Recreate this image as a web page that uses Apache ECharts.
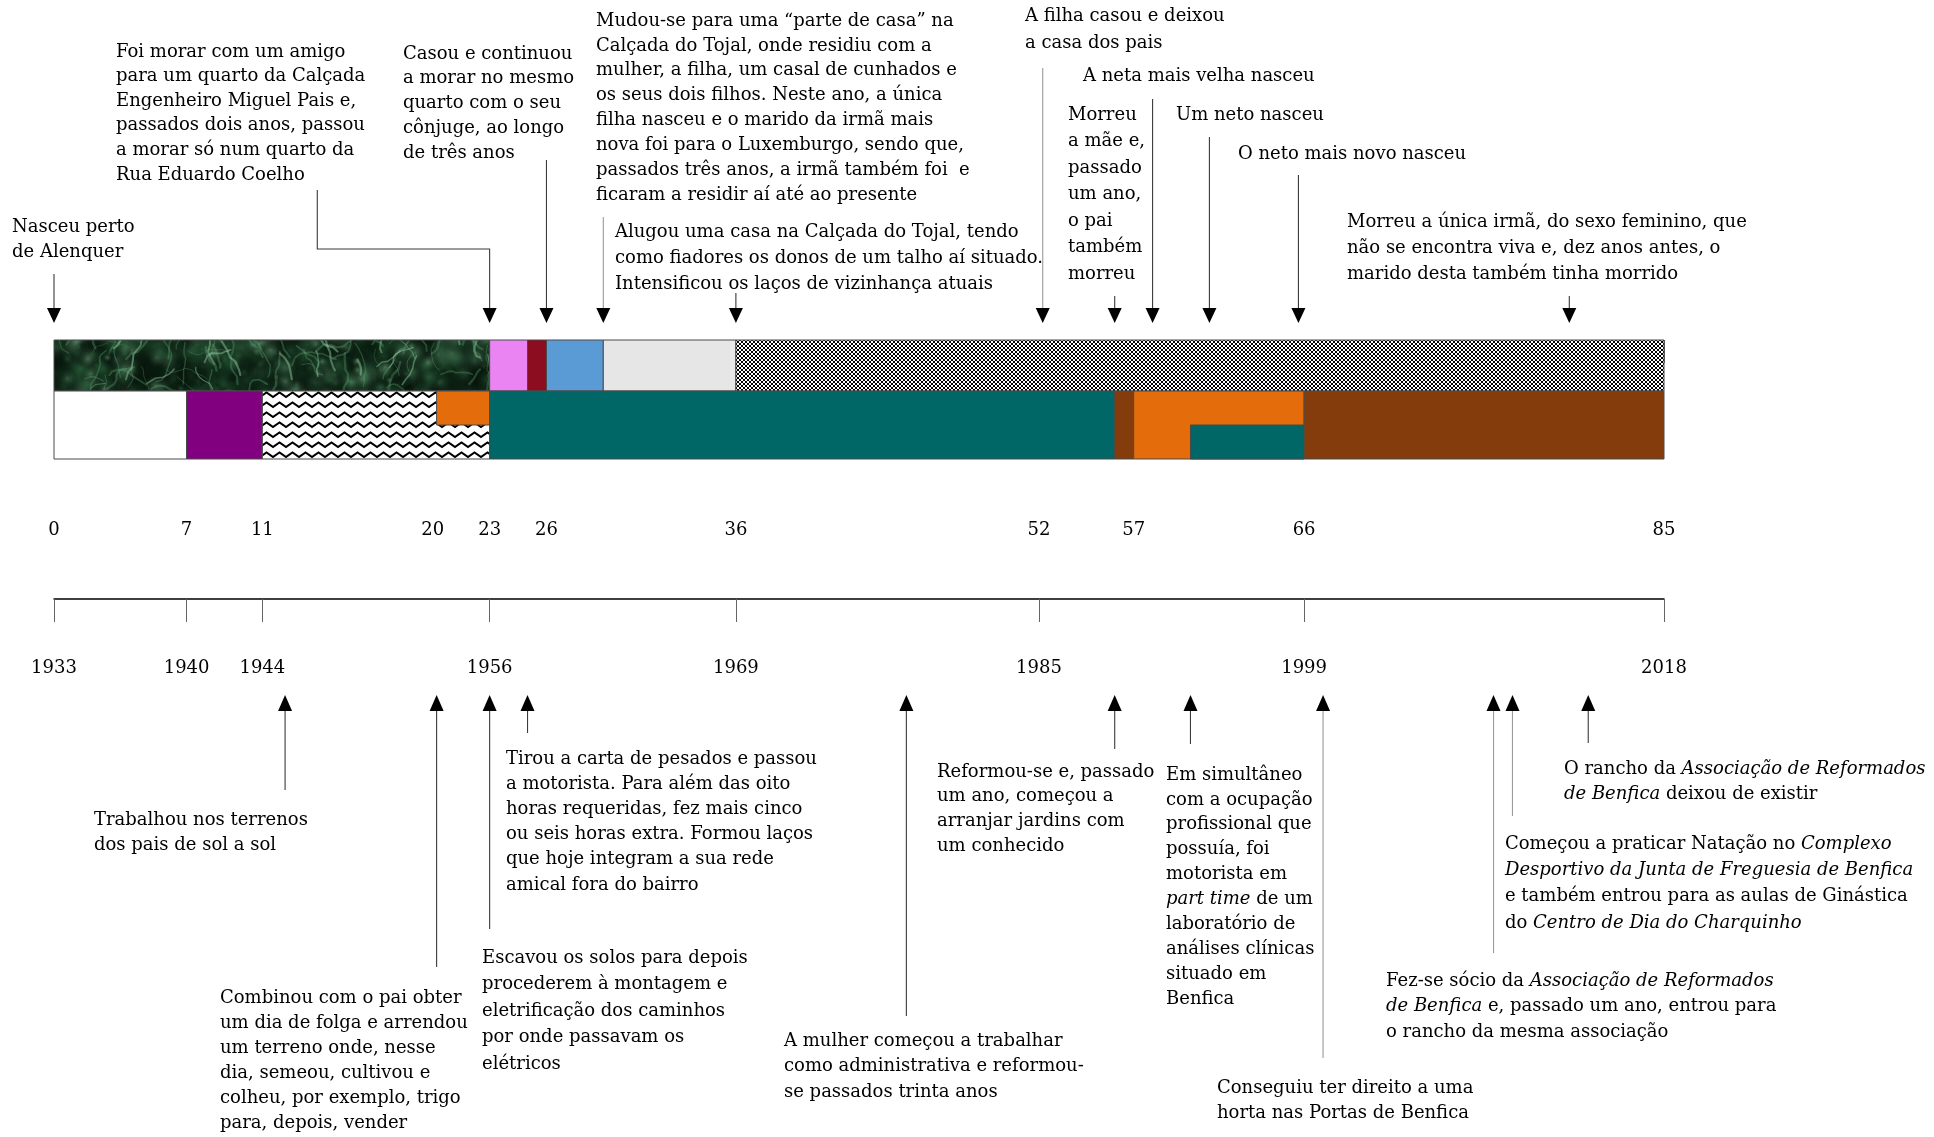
<!DOCTYPE html>
<html><head><meta charset="utf-8">
<script src="https://cdn.jsdelivr.net/npm/echarts@6/dist/echarts.min.js"></script>
<style>html,body{margin:0;padding:0;background:#fff}#c{width:1934px;height:1137px}</style>
</head><body><div id="c"></div>
<script>
// ---------------- DATA ----------------
const ageTicks = [0, 7, 11, 20, 23, 26, 36, 52, 57, 66, 85];
const yearTicks = [1933, 1940, 1944, 1956, 1969, 1985, 1999, 2018];

// residence trajectory (top bar): [startAge, endAge, fill]
const residenceSegments = [
  [0, 23, 'marble'], [23, 25, 'violet'], [25, 26, 'darkred'],
  [26, 29, 'blue'], [29, 36, 'lightgray'], [36, 85, 'hatch']
];
// occupation trajectory (bottom bar): [startAge, endAge, fill, lane]
const occupationSegments = [
  [0, 7, 'white', 'full'], [7, 11, 'purple', 'full'], [11, 23, 'zigzag', 'full'],
  [20.2, 23, 'orange', 'upper'], [23, 56, 'teal', 'full'], [56, 57, 'brown', 'full'],
  [57, 66, 'orange', 'full'], [60, 66, 'teal', 'lower'], [66, 85, 'brown', 'full']
];

// events above the bars (ages)
const aboveAges = [0, 23, 26, 29, 36, 52.2, 56, 58, 61, 65.7, 80];
const aboveTexts = [
  'Nasceu perto\nde Alenquer',
  'Foi morar com um amigo\npara um quarto da Calçada\nEngenheiro Miguel Pais e,\npassados dois anos, passou\na morar só num quarto da\nRua Eduardo Coelho',
  'Casou e continuou\na morar no mesmo\nquarto com o seu\ncônjuge, ao longo\nde três anos',
  'Mudou-se para uma “parte de casa” na\nCalçada do Tojal, onde residiu com a\nmulher, a filha, um casal de cunhados e\nos seus dois filhos. Neste ano, a única\nfilha nasceu e o marido da irmã mais\nnova foi para o Luxemburgo, sendo que,\npassados três anos, a irmã também foi  e\nficaram a residir aí até ao presente',
  'Alugou uma casa na Calçada do Tojal, tendo\ncomo fiadores os donos de um talho aí situado.\nIntensificou os laços de vizinhança atuais',
  'A filha casou e deixou\na casa dos pais',
  'Morreu\na mãe e,\npassado\num ano,\no pai\ntambém\nmorreu',
  'A neta mais velha nasceu',
  'Um neto nasceu',
  'O neto mais novo nasceu',
  'Morreu a única irmã, do sexo feminino, que\nnão se encontra viva e, dez anos antes, o\nmarido desta também tinha morrido'
];

// events below the axes (ages)
const belowAges = [12.2, 20.2, 23, 25, 45, 56, 60, 67, 76, 77, 81];
const belowTexts = [
  'Trabalhou nos terrenos\ndos pais de sol a sol',
  'Combinou com o pai obter\num dia de folga e arrendou\num terreno onde, nesse\ndia, semeou, cultivou e\ncolheu, por exemplo, trigo\npara, depois, vender',
  'Escavou os solos para depois\nprocederem à montagem e\neletrificação dos caminhos\npor onde passavam os\nelétricos',
  'Tirou a carta de pesados e passou\na motorista. Para além das oito\nhoras requeridas, fez mais cinco\nou seis horas extra. Formou laços\nque hoje integram a sua rede\namical fora do bairro',
  'A mulher começou a trabalhar\ncomo administrativa e reformou-\nse passados trinta anos',
  'Reformou-se e, passado\num ano, começou a\narranjar jardins com\num conhecido',
  'Em simultâneo\ncom a ocupação\nprofissional que\npossuía, foi\nmotorista em\n{i|part time} de um\nlaboratório de\nanálises clínicas\nsituado em\nBenfica',
  'Conseguiu ter direito a uma\nhorta nas Portas de Benfica',
  'Fez-se sócio da {i|Associação de Reformados}\n{i|de Benfica} e, passado um ano, entrou para\no rancho da mesma associação',
  'Começou a praticar Natação no {i|Complexo}\n{i|Desportivo da Junta de Freguesia de Benfica}\ne também entrou para as aulas de Ginástica\ndo {i|Centro de Dia do Charquinho}',
  'O rancho da {i|Associação de Reformados}\n{i|de Benfica} deixou de existir'
];

// ---------------- LAYOUT (pixels / styles) ----------------
const FONT = 'DejaVu Serif';
const FS = 18;
const lanes = { top: [0, 3], full: [3, 7], upper: [3, 5], lower: [5, 7] };
const fills = {
  violet: '#ea84f2', darkred: '#8b0d1f', blue: '#5b9bd5', lightgray: '#e6e6e6',
  white: '#ffffff', purple: '#800080', orange: '#e46c0a', teal: '#006666', brown: '#843c0c'
};
const TOP_TIP = 323, TOP_BASE = 308, BOT_TIP = 695, BOT_BASE = 711, HEAD_HALF = 7;
const aboveLayout = [
  { left: 12, first: 227, lh: 25, tail: 274 },
  { left: 116, first: 52, lh: 24.6, tail: 190, elbowAge: 13.9, elbowY: 249 },
  { left: 403, first: 54, lh: 24.75, tail: 160 },
  { left: 596, first: 21, lh: 24.85, tail: 217, gray: true },
  { left: 615, first: 232, lh: 26, tail: 293 },
  { left: 1025, first: 16, lh: 27, tail: 68, gray: true },
  { left: 1068, first: 115, lh: 26.5, tail: 296 },
  { left: 1083, first: 76, lh: 25, tail: 99 },
  { left: 1176, first: 115, lh: 25, tail: 137 },
  { left: 1238, first: 154, lh: 25, tail: 175 },
  { left: 1347, first: 222, lh: 26.3, tail: 296 }
];
const belowLayout = [
  { left: 94, first: 820, lh: 25, tail: 790 },
  { left: 220, first: 998, lh: 25, tail: 967 },
  { left: 482, first: 958, lh: 26.5, tail: 929 },
  { left: 506, first: 759, lh: 25.2, tail: 733 },
  { left: 784, first: 1041, lh: 25.5, tail: 1016 },
  { left: 937, first: 772, lh: 24.7, tail: 749 },
  { left: 1166, first: 775, lh: 24.9, tail: 744 },
  { left: 1217, first: 1088, lh: 25, tail: 1058, gray: true },
  { left: 1386, first: 981, lh: 25.5, tail: 953, gray: true },
  { left: 1505, first: 844, lh: 26.3, tail: 816, gray: true },
  { left: 1564, first: 769, lh: 25, tail: 743 }
];

// ---------------- textures (deterministic) ----------------
function hash(n) { const s = Math.sin(n * 12.9898 + 78.233) * 43758.5453; return s - Math.floor(s); }
function makeMarble() {
  const w = 520, h = 420, c = document.createElement('canvas');
  c.width = w; c.height = h;
  const g = c.getContext('2d');
  g.fillStyle = '#1e4f2e'; g.fillRect(0, 0, w, h);
  for (let k = 0; k < 700; k++) {
    const x = hash(k) * w, y = 330 + hash(k + 1000) * 75;
    const r = 4 + hash(k + 2000) * 16;
    const grd = g.createRadialGradient(x, y, 0, x, y, r);
    const t = hash(k + 3000);
    const col = t < 0.45 ? 'rgba(6,30,14,0.5)' : (t < 0.85 ? 'rgba(55,115,75,0.4)' : 'rgba(120,185,140,0.45)');
    grd.addColorStop(0, col);
    grd.addColorStop(1, 'rgba(0,0,0,0)');
    g.fillStyle = grd; g.fillRect(x - r, y - r, 2 * r, 2 * r);
  }
  g.lineCap = 'round'; g.lineJoin = 'round';
  for (let k = 0; k < 110; k++) {
    let x = hash(k + 5000) * w, y = 338 + hash(k + 6000) * 58;
    const bright = hash(k + 7000);
    g.strokeStyle = bright > 0.7 ? 'rgba(150,210,165,0.45)' : 'rgba(95,160,115,0.35)';
    g.lineWidth = 0.7 + hash(k + 8000) * 1.8;
    g.beginPath(); g.moveTo(x, y);
    let ang = -Math.PI / 2 + (hash(k + 9000) - 0.5) * 1.6;
    const steps = 4 + Math.floor(hash(k + 9500) * 6);
    for (let s = 0; s < steps; s++) {
      ang += (hash(k * 13 + s) - 0.5) * 1.4;
      const len = 3 + hash(k * 17 + s) * 5;
      x += Math.cos(ang) * len; y += Math.sin(ang) * len;
      g.lineTo(x, y);
    }
    g.stroke();
  }
  return c;
}
function makeHatch() {
  const c = document.createElement('canvas'); c.width = 4; c.height = 4;
  const g = c.getContext('2d');
  g.fillStyle = '#ffffff'; g.fillRect(0, 0, 4, 4);
  g.fillStyle = '#000000';
  [[0, 0], [3, 0], [1, 1], [2, 1], [1, 2], [2, 2], [0, 3], [3, 3]].forEach(p => g.fillRect(p[0], p[1], 1, 1));
  return c;
}
function makeZigzag() {
  const c = document.createElement('canvas'); c.width = 13; c.height = 10;
  const g = c.getContext('2d');
  g.fillStyle = '#ffffff'; g.fillRect(0, 0, 13, 10);
  g.strokeStyle = '#000'; g.lineWidth = 2;
  g.beginPath(); g.moveTo(-1, 7.8); g.lineTo(6.5, 2.5); g.lineTo(14, 7.8); g.stroke();
  return c;
}
fills.marble = { image: makeMarble(), repeat: 'repeat' };
fills.hatch = { image: makeHatch(), repeat: 'repeat' };
fills.zigzag = { image: makeZigzag(), repeat: 'repeat' };

// ---------------- render ----------------
const allSegments = residenceSegments.map(s => [s[0], s[1], s[2], 'top']).concat(occupationSegments);

function renderBar(params, api) {
  const s = allSegments[params.dataIndex];
  const lane = lanes[s[3]];
  const p0 = api.coord([api.value(0), lane[0]]);
  const p1 = api.coord([api.value(1), lane[1]]);
  return {
    type: 'rect',
    shape: { x: p0[0], y: p0[1], width: p1[0] - p0[0], height: p1[1] - p0[1] },
    style: { fill: fills[s[2]], stroke: '#4a4a4a', lineWidth: 1 }
  };
}
function textEl(txt, L) {
  return {
    type: 'text',
    style: {
      text: txt, x: L.left, y: L.first - L.lh / 2,
      fill: '#000', fontFamily: FONT, fontSize: FS, lineHeight: L.lh,
      align: 'left', verticalAlign: 'top',
      rich: { i: { fontStyle: 'italic', fontFamily: FONT, fontSize: FS, lineHeight: L.lh, fill: '#000' } }
    }
  };
}
function renderAbove(params, api) {
  const i = params.dataIndex, L = aboveLayout[i];
  const x = api.coord([api.value(0), 0])[0];
  const col = L.gray ? '#9a9a9a' : '#3a3a3a';
  let pts;
  if (L.elbowAge != null) {
    const ex = api.coord([L.elbowAge, 0])[0];
    pts = [[ex, L.tail], [ex, L.elbowY], [x, L.elbowY], [x, TOP_BASE]];
  } else {
    pts = [[x, L.tail], [x, TOP_BASE]];
  }
  return {
    type: 'group', children: [
      { type: 'polyline', shape: { points: pts }, style: { stroke: col, lineWidth: 1.1, fill: 'none' } },
      { type: 'polygon', shape: { points: [[x - HEAD_HALF, TOP_BASE], [x + HEAD_HALF, TOP_BASE], [x, TOP_TIP]] }, style: { fill: '#000' } },
      textEl(aboveTexts[i], L)
    ]
  };
}
function renderBelow(params, api) {
  const i = params.dataIndex, L = belowLayout[i];
  const x = api.coord([api.value(0), 0])[0];
  const col = L.gray ? '#9a9a9a' : '#3a3a3a';
  return {
    type: 'group', children: [
      { type: 'polyline', shape: { points: [[x, BOT_BASE], [x, L.tail]] }, style: { stroke: col, lineWidth: 1.1, fill: 'none' } },
      { type: 'polygon', shape: { points: [[x - HEAD_HALF, BOT_BASE], [x + HEAD_HALF, BOT_BASE], [x, BOT_TIP]] }, style: { fill: '#000' } },
      textEl(belowTexts[i], L)
    ]
  };
}

const labelStyle = { fontFamily: FONT, fontSize: FS, color: '#000', formatter: v => String(v) };
const chart = echarts.init(document.getElementById('c'), null, { renderer: 'canvas' });
chart.setOption({
  animation: false,
  backgroundColor: '#fff',
  grid: [
    { left: 54, width: 1610, top: 340, height: 119 },
    { left: 54, width: 1610, top: 598, height: 1 }
  ],
  xAxis: [
    {
      gridIndex: 0, type: 'value', min: 0, max: 85, position: 'bottom',
      axisLine: { show: false }, splitLine: { show: false },
      axisTick: { show: true, customValues: ageTicks, length: 23, lineStyle: { color: '#666', width: 1 } },
      axisLabel: Object.assign({ customValues: ageTicks, margin: 62 }, labelStyle)
    },
    {
      gridIndex: 1, type: 'value', min: 1933, max: 2018, position: 'bottom',
      axisLine: { show: true, lineStyle: { color: '#000', width: 1.5 } }, splitLine: { show: false },
      axisTick: { show: true, customValues: yearTicks, length: 23, lineStyle: { color: '#666', width: 1 } },
      axisLabel: Object.assign({ customValues: yearTicks, margin: 60 }, labelStyle)
    }
  ],
  yAxis: [
    { gridIndex: 0, type: 'value', min: 0, max: 7, inverse: true, show: false },
    { gridIndex: 1, type: 'value', min: 0, max: 1, show: false }
  ],
  series: [
    { type: 'custom', xAxisIndex: 0, yAxisIndex: 0, silent: true, clip: false,
      data: allSegments.map(s => [s[0], s[1]]), renderItem: renderBar },
    { type: 'custom', xAxisIndex: 0, yAxisIndex: 0, silent: true, clip: false,
      data: aboveAges.map(a => [a, 0]), renderItem: renderAbove },
    { type: 'custom', xAxisIndex: 0, yAxisIndex: 0, silent: true, clip: false,
      data: belowAges.map(a => [a, 0]), renderItem: renderBelow }
  ]
});
</script></body></html>
